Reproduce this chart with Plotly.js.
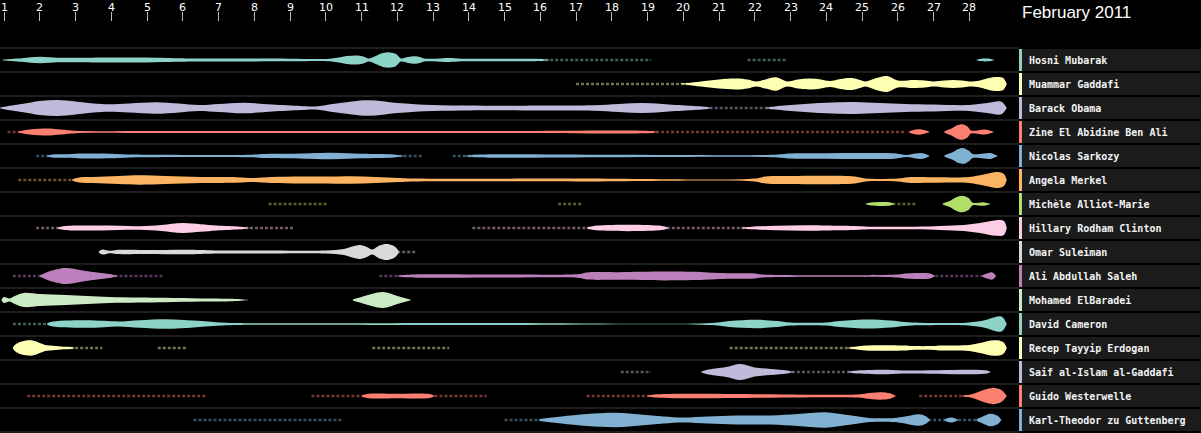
<!DOCTYPE html>
<html>
<head>
<meta charset="utf-8">
<script src="https://cdn.plot.ly/plotly-3.0.1.min.js"></script>
<style>
html,body{margin:0;padding:0;background:#000;}
#chart{width:1201px;height:433px;}
</style>
</head>
<body>
<div id="chart"></div>
<script>
// ---- DATA ----
const title = 'February 2011';
const dayTicks = [1,2,3,4,5,6,7,8,9,10,11,12,13,14,15,16,17,18,19,20,21,22,23,24,25,26,27,28];
const people = ['Hosni Mubarak','Muammar Gaddafi','Barack Obama','Zine El Abidine Ben Ali','Nicolas Sarkozy','Angela Merkel','Michèle Alliot-Marie','Hillary Rodham Clinton','Omar Suleiman','Ali Abdullah Saleh','Mohamed ElBaradei','David Cameron','Recep Tayyip Erdogan','Saif al-Islam al-Gaddafi','Guido Westerwelle','Karl-Theodor zu Guttenberg'];
const palette = ['#8dd3c7','#ffffb3','#bebada','#fb8072','#80b1d3','#fdb462','#b3de69','#fccde5','#d9d9d9','#bc80bd','#ccebc5'];

// [day, half-thickness] of each band
const bandMubarak = [[0.95,0],[1.0,0.4],[1.5,1.8],[2.0,3.3],[2.5,2.3],[3.0,2.3],[4.0,2.6],[5.0,2.4],[5.8,1.8],[6.5,1.5],[8.0,1.4],[9.0,1.3],[9.8,1.0],[10.1,1.3],[10.4,2.8],[10.6,4.0],[10.85,4.6],[11.05,3.6],[11.2,1.6],[11.4,4.0],[11.6,6.9],[11.8,7.6],[11.97,6.0],[12.1,1.6],[12.3,2.9],[12.5,3.8],[12.65,2.8],[12.75,1.5],[13.0,1.2],[13.45,2.0],[13.8,1.3],[15.0,1.2],[16.0,1.0],[16.3,0],[28.2,0],[28.3,1.1],[28.6,1.1],[28.7,0]];
const faintMubarak = [[16.0,19.1],[21.8,22.9]];

const bandGaddafi = [[19.9,0],[20.2,1.2],[20.6,3],[21.0,4.6],[21.5,5.5],[21.8,4.5],[22.05,2.5],[22.3,4.6],[22.6,6.7],[22.9,2.6],[23.2,4.6],[23.55,5.5],[23.85,4.5],[24.1,3],[24.4,5],[24.7,6],[24.95,4],[25.1,2.6],[25.4,6],[25.7,8],[26.0,3.5],[26.45,4],[26.75,3.5],[27.0,2.6],[27.3,3.5],[27.55,4],[27.8,3.5],[28.0,2.6],[28.3,3.6],[28.55,6],[28.75,7],[28.95,6],[29.05,0]];
const faintGaddafi = [[17.0,20.2]];

const bandObama = [[0.88,0],[1.0,1.2],[1.5,4],[2.0,7],[2.5,8],[3.0,6.5],[3.5,4.5],[3.95,3.8],[4.5,4.6],[5.25,5.8],[5.9,4.5],[6.45,3],[7.0,4],[7.7,5.3],[8.5,3.5],[9.3,2],[9.7,1.5],[10.3,4.5],[11.2,7.8],[12.0,5],[13.0,3],[14.0,2.4],[14.85,2.2],[16.0,2.5],[17.5,2.7],[18.2,4],[18.9,5],[19.6,3.5],[20.3,2],[20.6,1.2],[20.8,0],[22.3,0],[22.5,1.3],[23.2,3.5],[24.0,5.3],[24.8,6],[25.5,5],[26.2,4],[27.0,3.5],[28.0,3],[28.5,5],[28.9,6.2],[29.05,0]];
const faintObama = [[20.6,22.5]];

const bandBenAli = [[1.4,0],[1.6,2],[2.1,3.5],[2.6,2.5],[3.0,1.2],[5.0,1.1],[10.0,1.1],[15.0,1.1],[19.1,1.0],[19.3,0],[26.3,0],[26.6,2.7],[26.9,0],[27.3,0],[27.5,3.5],[27.65,6.5],[27.8,7.8],[27.95,5.5],[28.05,1.5],[28.45,2.5],[28.7,0]];
const faintBenAli = [[1.1,1.5],[19.1,26.2]];

const bandSarkozy = [[2.2,0],[2.35,1.5],[2.8,1.8],[3.2,2.4],[3.95,2.3],[4.6,1.4],[7.9,1.3],[8.3,2],[9.0,2.2],[10.2,3.3],[11.0,2.3],[11.9,1.5],[12.2,0],[13.9,0],[14.2,1.2],[18.0,1.2],[22.5,1.2],[23.0,2.5],[24.0,2.8],[25.0,3],[25.9,2.7],[26.25,1],[26.5,2.4],[26.7,2.8],[26.9,0],[27.3,0],[27.55,4],[27.7,7],[27.85,7.8],[28.0,5],[28.1,2],[28.4,2.5],[28.6,3],[28.8,0]];
const faintSarkozy = [[1.9,2.35],[11.9,12.7],[13.55,14.2]];

const bandMerkel = [[2.9,0],[3.1,2.5],[3.5,3],[4.2,4],[4.8,4.7],[5.5,4],[6.5,3],[7.5,2.8],[8.0,2],[8.5,3],[9.3,3.5],[10.0,3.5],[10.7,3.8],[11.4,3],[12.05,2],[12.5,1.4],[17.0,1.4],[22.0,1.4],[22.3,3.5],[23.0,4],[24.0,4.2],[24.8,3.5],[25.1,1.5],[26.0,1.5],[26.3,2.8],[27.0,2.8],[28.0,3],[28.4,5.5],[28.8,8],[28.97,6],[29.05,0]];
const faintMerkel = [[1.4,3.1]];

const bandAlliotMarie = [[25.1,0],[25.25,1.4],[25.8,1.4],[25.9,0],[27.25,0],[27.45,3],[27.62,6.5],[27.8,8.3],[27.98,6],[28.1,1.3],[28.4,1.8],[28.6,0]];
const faintAlliotMarie = [[8.4,10.05],[16.5,17.2],[25.85,26.5]];

const bandClinton = [[2.5,0],[2.65,1.8],[3.7,2.5],[4.8,1.8],[5.4,3],[6.0,5],[6.5,3.8],[6.95,2.5],[7.6,1.3],[7.9,0],[17.3,0],[17.5,2],[19.4,2],[19.6,0],[21.6,0],[21.9,1.3],[22.6,2.3],[23.4,2.8],[24.3,2.3],[24.8,2],[25.2,1.3],[26.5,1.3],[27.2,2],[27.85,3],[28.3,5],[28.75,7.8],[28.97,7],[29.05,0]];
const faintClinton = [[1.9,2.6],[7.6,9.1],[14.1,17.4],[19.4,21.8]];

const bandSuleiman = [[3.65,0],[3.75,2.5],[3.95,1.2],[4.15,2],[5.0,2],[6.2,2.3],[7.0,1.6],[8.5,1.5],[10.0,1.5],[10.5,3],[10.75,5.5],[10.95,7],[11.15,5],[11.3,2.5],[11.5,6.5],[11.7,8],[11.88,6.5],[12.0,3],[12.05,0]];
const faintSuleiman = [[12.0,12.5]];

const bandSaleh = [[2.0,0],[2.15,3],[2.45,6.5],[2.75,8],[3.2,5.5],[3.5,4],[3.95,2],[4.2,0],[12.0,0],[12.25,1.3],[15.0,1.5],[17.1,2],[17.3,3.5],[18.2,3.8],[19.5,4.4],[20.6,3.8],[21.0,3],[22.0,2.5],[22.2,1.6],[26.0,1.6],[26.2,2.5],[26.5,3],[26.9,2.5],[27.05,0],[28.35,0],[28.5,2.5],[28.65,3.5],[28.75,0]];
const faintSaleh = [[1.25,2.15],[3.95,5.45],[11.5,12.2],[27.05,28.35]];

const bandElBaradei = [[0.93,0],[1.0,3],[1.15,1.5],[1.3,4],[1.55,7],[2.0,6],[2.75,5],[3.95,3],[5.5,2.2],[6.5,1.6],[7.4,1.2],[7.85,0],[10.75,0],[11.0,3],[11.6,8],[12.0,4],[12.4,0]];
const faintElBaradei = [];

const bandCameron = [[2.2,0],[2.3,2],[3.2,3.8],[3.8,3.2],[4.2,2.5],[4.8,3.8],[5.55,4.8],[6.3,3.5],[6.95,1.8],[7.5,1.0],[14.0,1.0],[20.8,1.0],[21.3,3],[22.05,4.2],[22.6,3],[23.0,1.5],[24.0,1.5],[24.3,2.8],[25.1,4.5],[25.8,3.5],[26.2,2],[26.6,1.3],[27.9,1.3],[28.4,3.5],[28.9,7.5],[29.05,0]];
const faintCameron = [[1.25,2.3]];

const bandErdogan = [[1.25,0],[1.32,3.5],[1.5,6.5],[1.8,7.5],[2.0,5],[2.15,3],[2.3,2.5],[2.6,1.5],[2.85,1],[3.0,0],[24.6,0],[24.85,1.5],[25.1,2.5],[26.2,2.5],[26.4,2],[27.0,2],[27.2,2.5],[28.0,3],[28.3,5],[28.7,7.8],[28.95,6],[29.05,0]];
const faintErdogan = [[2.85,3.75],[5.3,6.1],[11.3,13.45],[21.3,24.85]];

const bandSaif = [[20.5,0],[20.65,2],[21.2,5],[21.6,8],[22.0,4.5],[22.45,3],[22.9,1.5],[23.1,0],[24.6,0],[24.8,1.3],[25.6,2.3],[26.2,1.5],[28.5,1.5],[28.6,0]];
const faintSaif = [[18.25,19.1],[22.9,24.8]];

const bandWesterwelle = [[11.0,0],[11.15,2],[12.0,2.3],[12.9,2],[13.05,0],[19.0,0],[19.2,1.5],[24.85,1.5],[25.1,2.5],[25.5,3.7],[25.8,2.5],[25.95,0],[27.8,0],[28.1,2],[28.4,6],[28.65,8],[28.9,6],[29.05,0]];
const faintWesterwelle = [[1.65,6.65],[9.6,11.1],[12.9,14.5],[17.3,19.1],[26.6,27.9]];

const bandGuttenberg = [[15.95,0],[16.1,1.5],[16.6,3.5],[17.3,6],[18.15,7.2],[18.8,5.5],[19.45,3.5],[20.0,2.5],[20.7,3.5],[21.5,4.5],[22.45,4.5],[23.2,6],[23.95,7.8],[24.4,6],[24.8,4],[25.2,2],[25.9,2],[26.2,3.5],[26.6,5.8],[26.8,3.5],[26.9,0],[27.3,0],[27.5,2.5],[27.7,0],[28.2,0],[28.35,3],[28.6,6.3],[28.8,4],[28.9,0]];
const faintGuttenberg = [[6.3,10.5],[15.0,16.1],[26.85,28.4]];

const bands = [bandMubarak,bandGaddafi,bandObama,bandBenAli,bandSarkozy,bandMerkel,bandAlliotMarie,bandClinton,bandSuleiman,bandSaleh,bandElBaradei,bandCameron,bandErdogan,bandSaif,bandWesterwelle,bandGuttenberg];
const faints = [faintMubarak,faintGaddafi,faintObama,faintBenAli,faintSarkozy,faintMerkel,faintAlliotMarie,faintClinton,faintSuleiman,faintSaleh,faintElBaradei,faintCameron,faintErdogan,faintSaif,faintWesterwelle,faintGuttenberg];

// ---- LAYOUT GEOMETRY (pixel-based y axis) ----
const W = 1201, H = 433, TOP = 22;
const ROW0 = 48, ROWH = 24;
const PX0 = 4, PXDAY = 35.75;       // pixel of day 1, pixels per day
const xMin = 1 - PX0 / PXDAY;
const xMax = 1 + (W - PX0) / PXDAY;
const panelX = 1019, barW = 3, textX = 1027;

const traces = [];
const shapes = [];
const annotations = [];

// split a band into runs separated by zero-width points
function segmentsOf(b) {
  const segs = [];
  let cur = [];
  b.forEach(p => {
    cur.push(p);
    if (p[1] === 0 && cur.length > 1) {
      if (cur.some(q => q[1] > 0)) segs.push(cur);
      cur = [p];
    }
  });
  if (cur.length > 1 && cur.some(q => q[1] > 0)) segs.push(cur);
  return segs;
}

people.forEach((name, i) => {
  const color = palette[i % palette.length];
  const cy = ROW0 + ROWH * i + ROWH / 2;
  // faint spans
  const fx = [], fy = [];
  faints[i].forEach(s => { fx.push(s[0], s[1], null); fy.push(cy, cy, null); });
  if (fx.length) {
    traces.push({x: fx, y: fy, mode: 'lines', hoverinfo: 'skip', showlegend: false,
      opacity: 0.45, line: {color: color, width: 2.5, dash: '3px,2px'}});
  }
  // band segments
  segmentsOf(bands[i]).forEach(seg => {
    const xs = [], ys = [];
    seg.forEach(p => { xs.push(p[0]); ys.push(cy - p[1]); });
    for (let k = seg.length - 1; k >= 0; k--) { xs.push(seg[k][0]); ys.push(cy + seg[k][1]); }
    traces.push({x: xs, y: ys, mode: 'lines', fill: 'toself', fillcolor: color,
      hoverinfo: 'skip', showlegend: false,
      line: {color: color, width: 0, shape: 'spline', smoothing: 1.0}});
  });

  // label panel
  const y0 = ROW0 + ROWH * i + 1, y1 = ROW0 + ROWH * (i + 1) - 1;
  shapes.push({type: 'rect', xref: 'paper', yref: 'y', layer: 'above',
    x0: (panelX + barW) / W, x1: 1, y0: y0, y1: y1, fillcolor: '#1b1b1b', line: {width: 0}});
  shapes.push({type: 'rect', xref: 'paper', yref: 'y', layer: 'above',
    x0: panelX / W, x1: (panelX + barW) / W, y0: y0, y1: y1, fillcolor: color, line: {width: 0}});
  annotations.push({xref: 'paper', yref: 'y', x: textX / W, y: cy + 0.5, xanchor: 'left', yanchor: 'middle',
    text: name, showarrow: false,
    font: {family: 'DejaVu Sans Mono, monospace', size: 10, color: '#f2f2f2', weight: 'bold'}});
});

// row separator lines
for (let k = 0; k <= people.length; k++) {
  const y = ROW0 + ROWH * k;
  shapes.push({type: 'line', xref: 'paper', yref: 'y', layer: 'below',
    x0: 0, x1: panelX / W, y0: y, y1: y, line: {color: '#3a3a3a', width: 1}});
}

// day tick labels above the tick marks
dayTicks.forEach(d => {
  annotations.push({xref: 'x', yref: 'paper', x: d, y: 1, yshift: 15, xanchor: 'center', yanchor: 'middle',
    text: String(d), showarrow: false,
    font: {family: 'DejaVu Sans, sans-serif', size: 11, color: '#ffffff'}});
});

annotations.push({xref: 'paper', yref: 'paper', x: 1020 / W, y: 1, yshift: 10, xanchor: 'left', yanchor: 'middle',
  text: title, showarrow: false, font: {family: 'Liberation Sans, Arial, sans-serif', size: 17, color: '#ffffff'}});

const layout = {
  width: W, height: H,
  margin: {l: 0, r: 0, t: TOP, b: 0, pad: 0},
  paper_bgcolor: '#000', plot_bgcolor: '#000',
  showlegend: false,
  xaxis: {range: [xMin, xMax], side: 'top', tickmode: 'array', tickvals: dayTicks,
    showticklabels: false, ticks: 'outside', ticklen: 9, tickwidth: 1, tickcolor: '#bbbbbb',
    showgrid: false, zeroline: false, showline: false, fixedrange: true},
  yaxis: {range: [H, TOP], autorange: false, showgrid: false, zeroline: false, showline: false,
    showticklabels: false, ticks: '', fixedrange: true},
  shapes: shapes,
  annotations: annotations
};

Plotly.newPlot('chart', traces, layout, {staticPlot: true, displayModeBar: false});
</script>
</body>
</html>
